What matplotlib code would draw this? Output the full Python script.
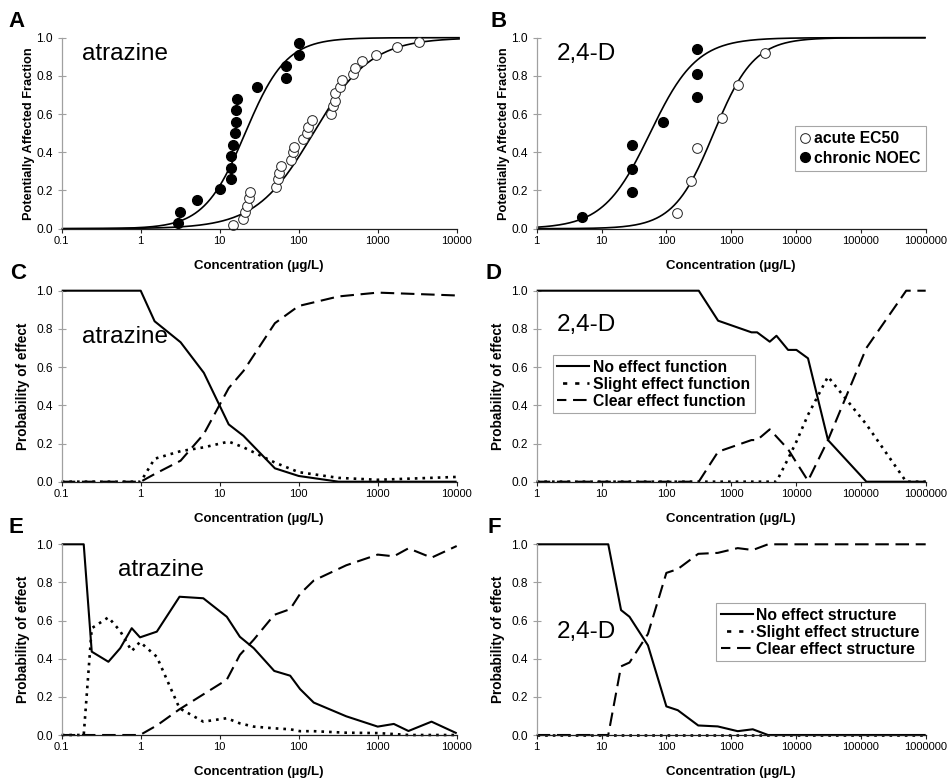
import numpy as np
import matplotlib.pyplot as plt
from matplotlib.lines import Line2D

plt.rcParams['font.family'] = ['Liberation Sans', 'DejaVu Sans']

# --- species sensitivity points (concentration in ug/L, affected fraction) ---
atz_acute_conc = [14.9, 20, 21, 22.4, 23.7, 24.2, 51.6, 54.2, 56.4, 59.7, 80, 85, 87,
                  112, 126, 133, 149, 260, 270, 290, 285, 330, 355, 490, 520, 640, 960, 1750, 3300]
atz_acute_frac = [0.02, 0.05, 0.09, 0.12, 0.16, 0.19, 0.22, 0.26, 0.29, 0.33, 0.36, 0.40, 0.43,
                  0.47, 0.50, 0.53, 0.57, 0.60, 0.64, 0.67, 0.71, 0.74, 0.78, 0.81, 0.84, 0.88,
                  0.91, 0.95, 0.98]
atz_chronic_conc = [3.0, 3.1, 5.1, 10, 13.8, 14, 14, 14.8, 15.8, 16.2, 16.2, 16.4, 29.4, 69, 69, 100, 100]
atz_chronic_frac = [0.03, 0.09, 0.15, 0.21, 0.26, 0.32, 0.38, 0.44, 0.50, 0.56, 0.62, 0.68,
                    0.74, 0.79, 0.85, 0.91, 0.97]

d24_acute_conc = [144, 244, 292, 725, 1277, 3300]
d24_acute_frac = [0.08, 0.25, 0.42, 0.58, 0.75, 0.92]
d24_chronic_conc = [5, 30, 30, 30, 90, 300, 300, 300]
d24_chronic_frac = [0.06, 0.19, 0.31, 0.44, 0.56, 0.69, 0.81, 0.94]

# log-logistic fits: median (ug/L) and slope (log10 units)
atz_fit_median = [153, 21]      # acute, chronic
atz_fit_slope = [0.364, 0.26]
d24_fit_median = [537, 56]
d24_fit_slope = [0.31, 0.36]

# --- probability of effect, atrazine, function endpoints ---
atz_fn_conc = [0.1, 1, 1.5, 3.2, 6.3, 13, 20, 50, 100, 320, 1000, 10000]
atz_fn_none = [1, 1, 0.84, 0.73, 0.57, 0.30, 0.24, 0.07, 0.03, 0.0, 0.0, 0.0]
atz_fn_slight = [0, 0, 0.12, 0.16, 0.18, 0.21, 0.18, 0.10, 0.05, 0.02, 0.01, 0.025]
atz_fn_clear = [0, 0, 0.04, 0.11, 0.25, 0.49, 0.58, 0.83, 0.92, 0.97, 0.99, 0.975]

# --- 2,4-D, function endpoints ---
d24_fn_conc = [1, 316, 628, 2056, 2510, 3930, 4990, 7540, 10140, 15300, 31100, 121600, 500000, 1000000]
d24_fn_none = [1, 1, 0.843, 0.782, 0.782, 0.733, 0.764, 0.69, 0.69, 0.646, 0.218, 0, 0, 0]
d24_fn_slight = [0, 0, 0, 0, 0, 0, 0, 0.12, 0.21, 0.35, 0.55, 0.30, 0, 0]
d24_fn_clear = [0, 0, 0.157, 0.218, 0.218, 0.274, 0.236, 0.17, 0.10, 0.005, 0.218, 0.70, 1.0, 1.0]

# --- atrazine, structure endpoints ---
atz_st_conc = [0.1, 0.19, 0.24, 0.39, 0.55, 0.77, 0.98, 1.6, 3.1, 6.2, 12.3, 18, 27, 49, 78,
               104, 155, 400, 1000, 1600, 2450, 4800, 10000]
atz_st_none = [1, 1, 0.437, 0.384, 0.455, 0.56, 0.512, 0.542, 0.725, 0.717, 0.62, 0.515, 0.455,
               0.336, 0.311, 0.241, 0.17, 0.098, 0.044, 0.058, 0.021, 0.07, 0.009]
atz_st_slight = [0, 0, 0.56, 0.617, 0.545, 0.44, 0.488, 0.41, 0.14, 0.07, 0.088, 0.061, 0.044,
                 0.035, 0.03, 0.02, 0.02, 0.012, 0.01, 0.005, 0.0, 0.0, 0.0]
atz_st_clear = [0, 0, 0, 0, 0, 0, 0, 0.05, 0.135, 0.213, 0.29, 0.42, 0.50, 0.63, 0.66, 0.74,
                0.81, 0.89, 0.946, 0.937, 0.979, 0.93, 0.991]

# --- 2,4-D, structure endpoints ---
d24_st_conc = [1, 12.7, 20, 27, 52, 100, 150, 310, 620, 1260, 2150, 3700, 1000000]
d24_st_none = [1, 1, 0.655, 0.62, 0.47, 0.15, 0.13, 0.05, 0.045, 0.02, 0.03, 0, 0]
d24_st_slight = [0, 0, 0, 0, 0, 0, 0, 0, 0, 0, 0, 0, 0]
d24_st_clear = [0, 0, 0.36, 0.38, 0.53, 0.85, 0.87, 0.95, 0.955, 0.98, 0.97, 1.0, 1.0]

atz_ticks = [0.1, 1, 10, 100, 1000, 10000]
atz_ticklabels = ['0.1', '1', '10', '100', '1000', '10000']
d24_ticks = [1, 10, 100, 1000, 10000, 100000, 1000000]
d24_ticklabels = ['1', '10', '100', '1000', '10000', '100000', '1000000']
y_ticks = [0.0, 0.2, 0.4, 0.6, 0.8, 1.0]
y_ticklabels = ['0.0', '0.2', '0.4', '0.6', '0.8', '1.0']

W, H = 950, 781
fig = plt.figure(figsize=(W / 100, H / 100), dpi=100)


def px_rect(x0, x1, top, bottom):
    return [x0 / W, 1 - bottom / H, (x1 - x0) / W, (bottom - top) / H]


cols = [(61.7, 456.7), (536.7, 925.7)]
rows = [(37.7, 228.7), (290.7, 481.7), (544.3, 735.0)]


def setup(ax, ticks, labels, ylabel, ylab_x):
    ax.set_xscale('log')
    ax.set_xlim(ticks[0], ticks[-1])
    ax.set_ylim(0, 1)
    ax.spines['top'].set_visible(False)
    ax.spines['right'].set_visible(False)
    ax.spines['left'].set_color('#a0a0a0')
    ax.spines['bottom'].set_color('#202020')
    ax.spines['left'].set_linewidth(0.9)
    ax.spines['bottom'].set_linewidth(0.9)
    ax.xaxis.set_minor_locator(plt.NullLocator())
    ax.set_xticks(ticks)
    ax.set_xticklabels(labels)
    ax.set_yticks(y_ticks)
    ax.set_yticklabels(y_ticklabels)
    ax.tick_params(axis='x', direction='out', length=3, width=0.8, pad=2,
                   labelsize=8, color='#202020')
    ax.tick_params(axis='y', direction='inout', length=6, width=0.8, pad=3.5,
                   labelsize=8.6, color='#a0a0a0')
    ax.set_xlabel('Concentration (\u00b5g/L)', fontsize=9.5, fontweight='bold')
    ax.xaxis.set_label_coords(0.5, -0.165)
    ax.set_ylabel(ylabel, fontsize=9.2 if ylabel.startswith('Pot') else 9.8,
                  fontweight='bold')
    ax.yaxis.set_label_coords(ylab_x, 0.5)


def ssd(conc, median, slope):
    return 1.0 / (1.0 + np.exp(-(np.log10(conc) - np.log10(median)) / slope))


line_kw = dict(color='black', clip_on=False, solid_capstyle='butt', dash_capstyle='butt')
dot_style = (0, (1.0, 1.9))
dash_style = (0, (6.5, 3.2))
leg_kw = dict(loc='upper left', frameon=True, fancybox=False, edgecolor='#909090',
              prop={'weight': 'bold', 'size': 11.3}, borderaxespad=0)

# --- A: atrazine SSD ---
axA = fig.add_axes(px_rect(*cols[0], *rows[0]))
setup(axA, atz_ticks, atz_ticklabels, 'Potentially Affected Fraction', -0.068)
xs = np.logspace(-1, 4.04, 400)
for med, sl in zip(atz_fit_median, atz_fit_slope):
    axA.plot(xs, ssd(xs, med, sl), lw=1.2, **line_kw)
axA.plot(atz_acute_conc, atz_acute_frac, 'o', ms=7.0, mfc='white', mec='#222222',
         mew=0.7, ls='none', clip_on=False)
axA.plot(atz_chronic_conc, atz_chronic_frac, 'o', ms=7.0, mfc='black', mec='black',
         ls='none', clip_on=False)

# --- B: 2,4-D SSD ---
axB = fig.add_axes(px_rect(*cols[1], *rows[0]))
setup(axB, d24_ticks, d24_ticklabels, 'Potentially Affected Fraction', -0.069)
xs = np.logspace(0, 6, 400)
for med, sl in zip(d24_fit_median, d24_fit_slope):
    axB.plot(xs, ssd(xs, med, sl), lw=1.2, **line_kw)
axB.plot(d24_acute_conc, d24_acute_frac, 'o', ms=7.0, mfc='white', mec='#222222',
         mew=0.7, ls='none', clip_on=False, label='acute EC50')
axB.plot(d24_chronic_conc, d24_chronic_frac, 'o', ms=7.0, mfc='black', mec='black',
         ls='none', clip_on=False, label='chronic NOEC')
legB = axB.legend(bbox_to_anchor=(0.663, 0.54), handlelength=0.6, handletextpad=0.3,
                  borderpad=0.35, labelspacing=0.3, **leg_kw)
legB.get_frame().set_linewidth(0.8)


def effect_panel(ax, conc, none, slight, clear):
    ax.plot(conc, none, lw=1.5, ls='-', **line_kw)
    ax.plot(conc, slight, lw=1.9, ls=dot_style, **line_kw)
    ax.plot(conc, clear, lw=1.5, ls=dash_style, **line_kw)


# legend samples: short dashes for the slight-effect line
effect_handles = [Line2D([], [], color='black', lw=1.5),
                  Line2D([], [], color='black', lw=1.9, ls=(2.5, (1.6, 3.0))),
                  Line2D([], [], color='black', lw=1.5, ls=(2.0, dash_style[1]))]

# --- C ---
axC = fig.add_axes(px_rect(*cols[0], *rows[1]))
setup(axC, atz_ticks, atz_ticklabels, 'Probability of effect', -0.081)
effect_panel(axC, atz_fn_conc, atz_fn_none, atz_fn_slight, atz_fn_clear)

# --- D ---
axD = fig.add_axes(px_rect(*cols[1], *rows[1]))
setup(axD, d24_ticks, d24_ticklabels, 'Probability of effect', -0.082)
effect_panel(axD, d24_fn_conc, d24_fn_none, d24_fn_slight, d24_fn_clear)
legD = axD.legend(effect_handles,
                  ['No effect function', 'Slight effect function', 'Clear effect function'],
                  bbox_to_anchor=(0.041, 0.663), handlelength=2.0, handletextpad=0.25,
                  borderpad=0.3, labelspacing=0.12, **leg_kw)
legD.get_frame().set_linewidth(0.8)

# --- E ---
axE = fig.add_axes(px_rect(*cols[0], *rows[2]))
setup(axE, atz_ticks, atz_ticklabels, 'Probability of effect', -0.081)
effect_panel(axE, atz_st_conc, atz_st_none, atz_st_slight, atz_st_clear)

# --- F ---
axF = fig.add_axes(px_rect(*cols[1], *rows[2]))
setup(axF, d24_ticks, d24_ticklabels, 'Probability of effect', -0.082)
effect_panel(axF, d24_st_conc, d24_st_none, d24_st_slight, d24_st_clear)
legF = axF.legend(effect_handles,
                  ['No effect structure', 'Slight effect structure', 'Clear effect structure'],
                  bbox_to_anchor=(0.462, 0.691), handlelength=2.0, handletextpad=0.25,
                  borderpad=0.3, labelspacing=0.12, **leg_kw)
legF.get_frame().set_linewidth(0.8)

# panel letters and compound names
for letter, x, y in [('A', 8, 26.7), ('B', 491, 26.7), ('C', 10, 279), ('D', 485, 279),
                     ('E', 8, 533.3), ('F', 488, 533.3)]:
    fig.text(x / W, 1 - y / H, letter, fontsize=16, fontweight='bold', va='baseline')

for name, x, y in [('atrazine', 82, 60), ('2,4-D', 556.7, 60), ('atrazine', 81.7, 343.3),
                   ('2,4-D', 556.7, 331), ('atrazine', 118.3, 576), ('2,4-D', 556.7, 638.3)]:
    fig.text(x / W, 1 - y / H, name, fontsize=17.5, va='baseline')

fig.savefig('out.png', dpi=100)
